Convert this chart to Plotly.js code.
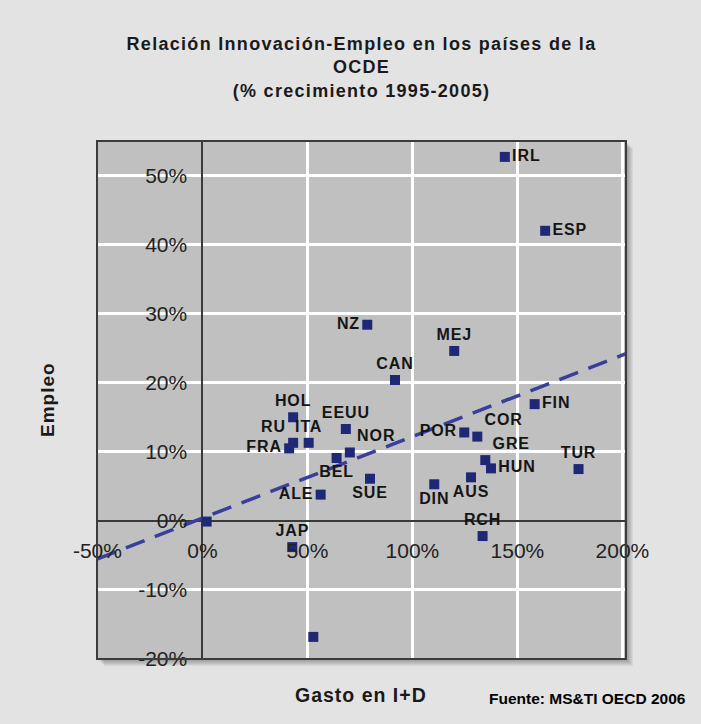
<!DOCTYPE html>
<html>
<head>
<meta charset="utf-8">
<script src="https://cdn.plot.ly/plotly-3.0.1.min.js"></script>
<style>
html,body{margin:0;padding:0;background:#e3e3e3;}
#chart{width:701px;height:724px;}
#chart .gtitle{letter-spacing:1.3px;}
#chart .annotation-text{letter-spacing:1px;}
#chart .annotation[data-index="2"] .annotation-text{letter-spacing:0px;}
#chart .textpoint text{letter-spacing:0.9px;}
</style>
</head>
<body>
<div id="chart"></div>
<script>
// ---- data ----
const countries = ['IRL','ESP','NZ','MEJ','CAN','HOL','EEUU','RU','ITA','FRA','NOR','BEL','SUE','ALE','JAP','FIN','POR','COR','GRE','HUN','AUS','DIN','TUR','RCH','',''];
const gastoID   = [144.0,163.2,78.5,119.9,91.7,43.2,68.3,43.2,50.6,41.3,70.2,63.9,79.8,56.3,42.8,158.2,124.7,130.9,134.7,137.4,127.9,110.4,179.1,133.4,2.0,52.8];
const empleo    = [52.7,42.0,28.4,24.6,20.4,15.0,13.3,11.3,11.3,10.5,9.9,9.1,6.1,3.8,-3.8,16.9,12.8,12.2,8.8,7.6,6.3,5.3,7.5,-2.2,-0.1,-16.8];
const labelPos  = ['middle right','middle right','middle left','top center','top center','top center','top center','top left','top center','middle left','top right','bottom center','bottom center','middle left','top center','middle right','middle left','top right','top right','middle right','bottom center','bottom center','top center','top center','top center','top center'];
const trendSlope = 0.118;
const trendIntercept = 0.4;
const xTicks = [-50,0,50,100,150,200];
const xTickText = ['-50%','0%','50%','100%','150%','200%'];
const yTicks = [-20,-10,0,10,20,30,40,50];
const yTickText = ['-20%','-10%','0%','10%','20%','30%','40%','50%'];

const xRange = [-50.2, 201.7];
const yRange = [-20, 55];

const trendX = [xRange[0], xRange[1]];
const trendY = trendX.map(v => trendSlope * v + trendIntercept);

const W = 701, H = 724, L = 97, R = 75, T = 141, B = 65;
const pw = W - L - R, ph = H - T - B;
const px = p => (p - L) / pw;      // pixel -> paper x
const py = p => (H - B - p) / ph;  // pixel -> paper y

const traces = [
  {x: trendX, y: trendY, mode: 'lines', type: 'scatter',
   line: {color: '#3a3f9c', width: 3.5, dash: '20px,11px'}, hoverinfo: 'skip'},
  {x: gastoID, y: empleo, text: countries, mode: 'markers+text', type: 'scatter',
   textposition: labelPos,
   marker: {symbol: 'square', size: 10, color: '#1f2876'},
   textfont: {family: 'Liberation Sans, Arial, sans-serif', size: 16, weight: 'bold', color: '#151515'}}
];

const shadow = [];
for (let k = 1; k <= 6; k++) {
  shadow.push({type: 'rect', xref: 'paper', yref: 'paper', layer: 'below',
    x0: (k + 1) / pw, x1: 1 + (k + 1) / pw, y0: -(k + 1) / ph, y1: 1 - (k + 1) / ph,
    line: {width: 0}, fillcolor: 'rgba(0,0,0,0.05)'});
}

const layout = {
  width: W, height: H,
  margin: {l: L, r: R, t: T, b: B},
  paper_bgcolor: '#e3e3e3',
  plot_bgcolor: 'rgba(0,0,0,0)',
  showlegend: false,
  font: {family: 'Liberation Sans, Arial, sans-serif', color: '#1a1a1a'},
  title: {text: 'Relación Innovación-Empleo en los países de la<br>OCDE<br>(% crecimiento 1995-2005)',
    font: {size: 18, weight: 'bold', color: '#1a1a1a'},
    xref: 'paper', x: 0.5, xanchor: 'center', yref: 'container', y: 0.931, yanchor: 'top'},
  xaxis: {range: xRange, tickvals: xTicks, ticktext: xTickText,
    anchor: 'free', position: (0 - yRange[0]) / (yRange[1] - yRange[0]),
    showgrid: true, gridcolor: '#ffffff', gridwidth: 3,
    zeroline: true, zerolinecolor: '#3a3a3a', zerolinewidth: 2,
    showline: false, ticks: 'outside', ticklen: 11, tickcolor: 'rgba(0,0,0,0)',
    tickfont: {size: 21, color: '#222'}},
  yaxis: {range: yRange, tickvals: yTicks, ticktext: yTickText,
    anchor: 'free', position: (0 - xRange[0]) / (xRange[1] - xRange[0]),
    showgrid: true, gridcolor: '#ffffff', gridwidth: 3,
    zeroline: true, zerolinecolor: '#3a3a3a', zerolinewidth: 2,
    showline: false, ticks: 'outside', ticklen: 11, tickcolor: 'rgba(0,0,0,0)',
    tickfont: {size: 21, color: '#222'}},
  shapes: shadow.concat([
    {type: 'rect', xref: 'paper', yref: 'paper', layer: 'below', x0: 0, x1: 1, y0: 0, y1: 1,
     line: {width: 0}, fillcolor: '#c0c0c0'},
    {type: 'rect', xref: 'paper', yref: 'paper', layer: 'above', x0: 0, x1: 1, y0: 0, y1: 1,
     line: {width: 2, color: '#3c3c3c'}, fillcolor: 'rgba(0,0,0,0)'}
  ]),
  annotations: [
    {text: 'Empleo', xref: 'paper', yref: 'paper', x: px(47), y: 0.5, textangle: -90,
     showarrow: false, xanchor: 'center', yanchor: 'middle',
     font: {size: 19, weight: 'bold', color: '#1a1a1a'}},
    {text: 'Gasto en I+D', xref: 'paper', yref: 'paper', x: px(361), y: py(695),
     showarrow: false, xanchor: 'center', yanchor: 'middle',
     font: {size: 19.5, weight: 'bold', color: '#1a1a1a'}},
    {text: 'Fuente: MS&TI OECD 2006', xref: 'paper', yref: 'paper', x: px(587), y: py(698),
     showarrow: false, xanchor: 'center', yanchor: 'middle',
     font: {size: 15.5, weight: 'bold', color: '#000'}}
  ]
};

Plotly.newPlot('chart', traces, layout, {displayModeBar: false, staticPlot: true});
</script>
</body>
</html>
